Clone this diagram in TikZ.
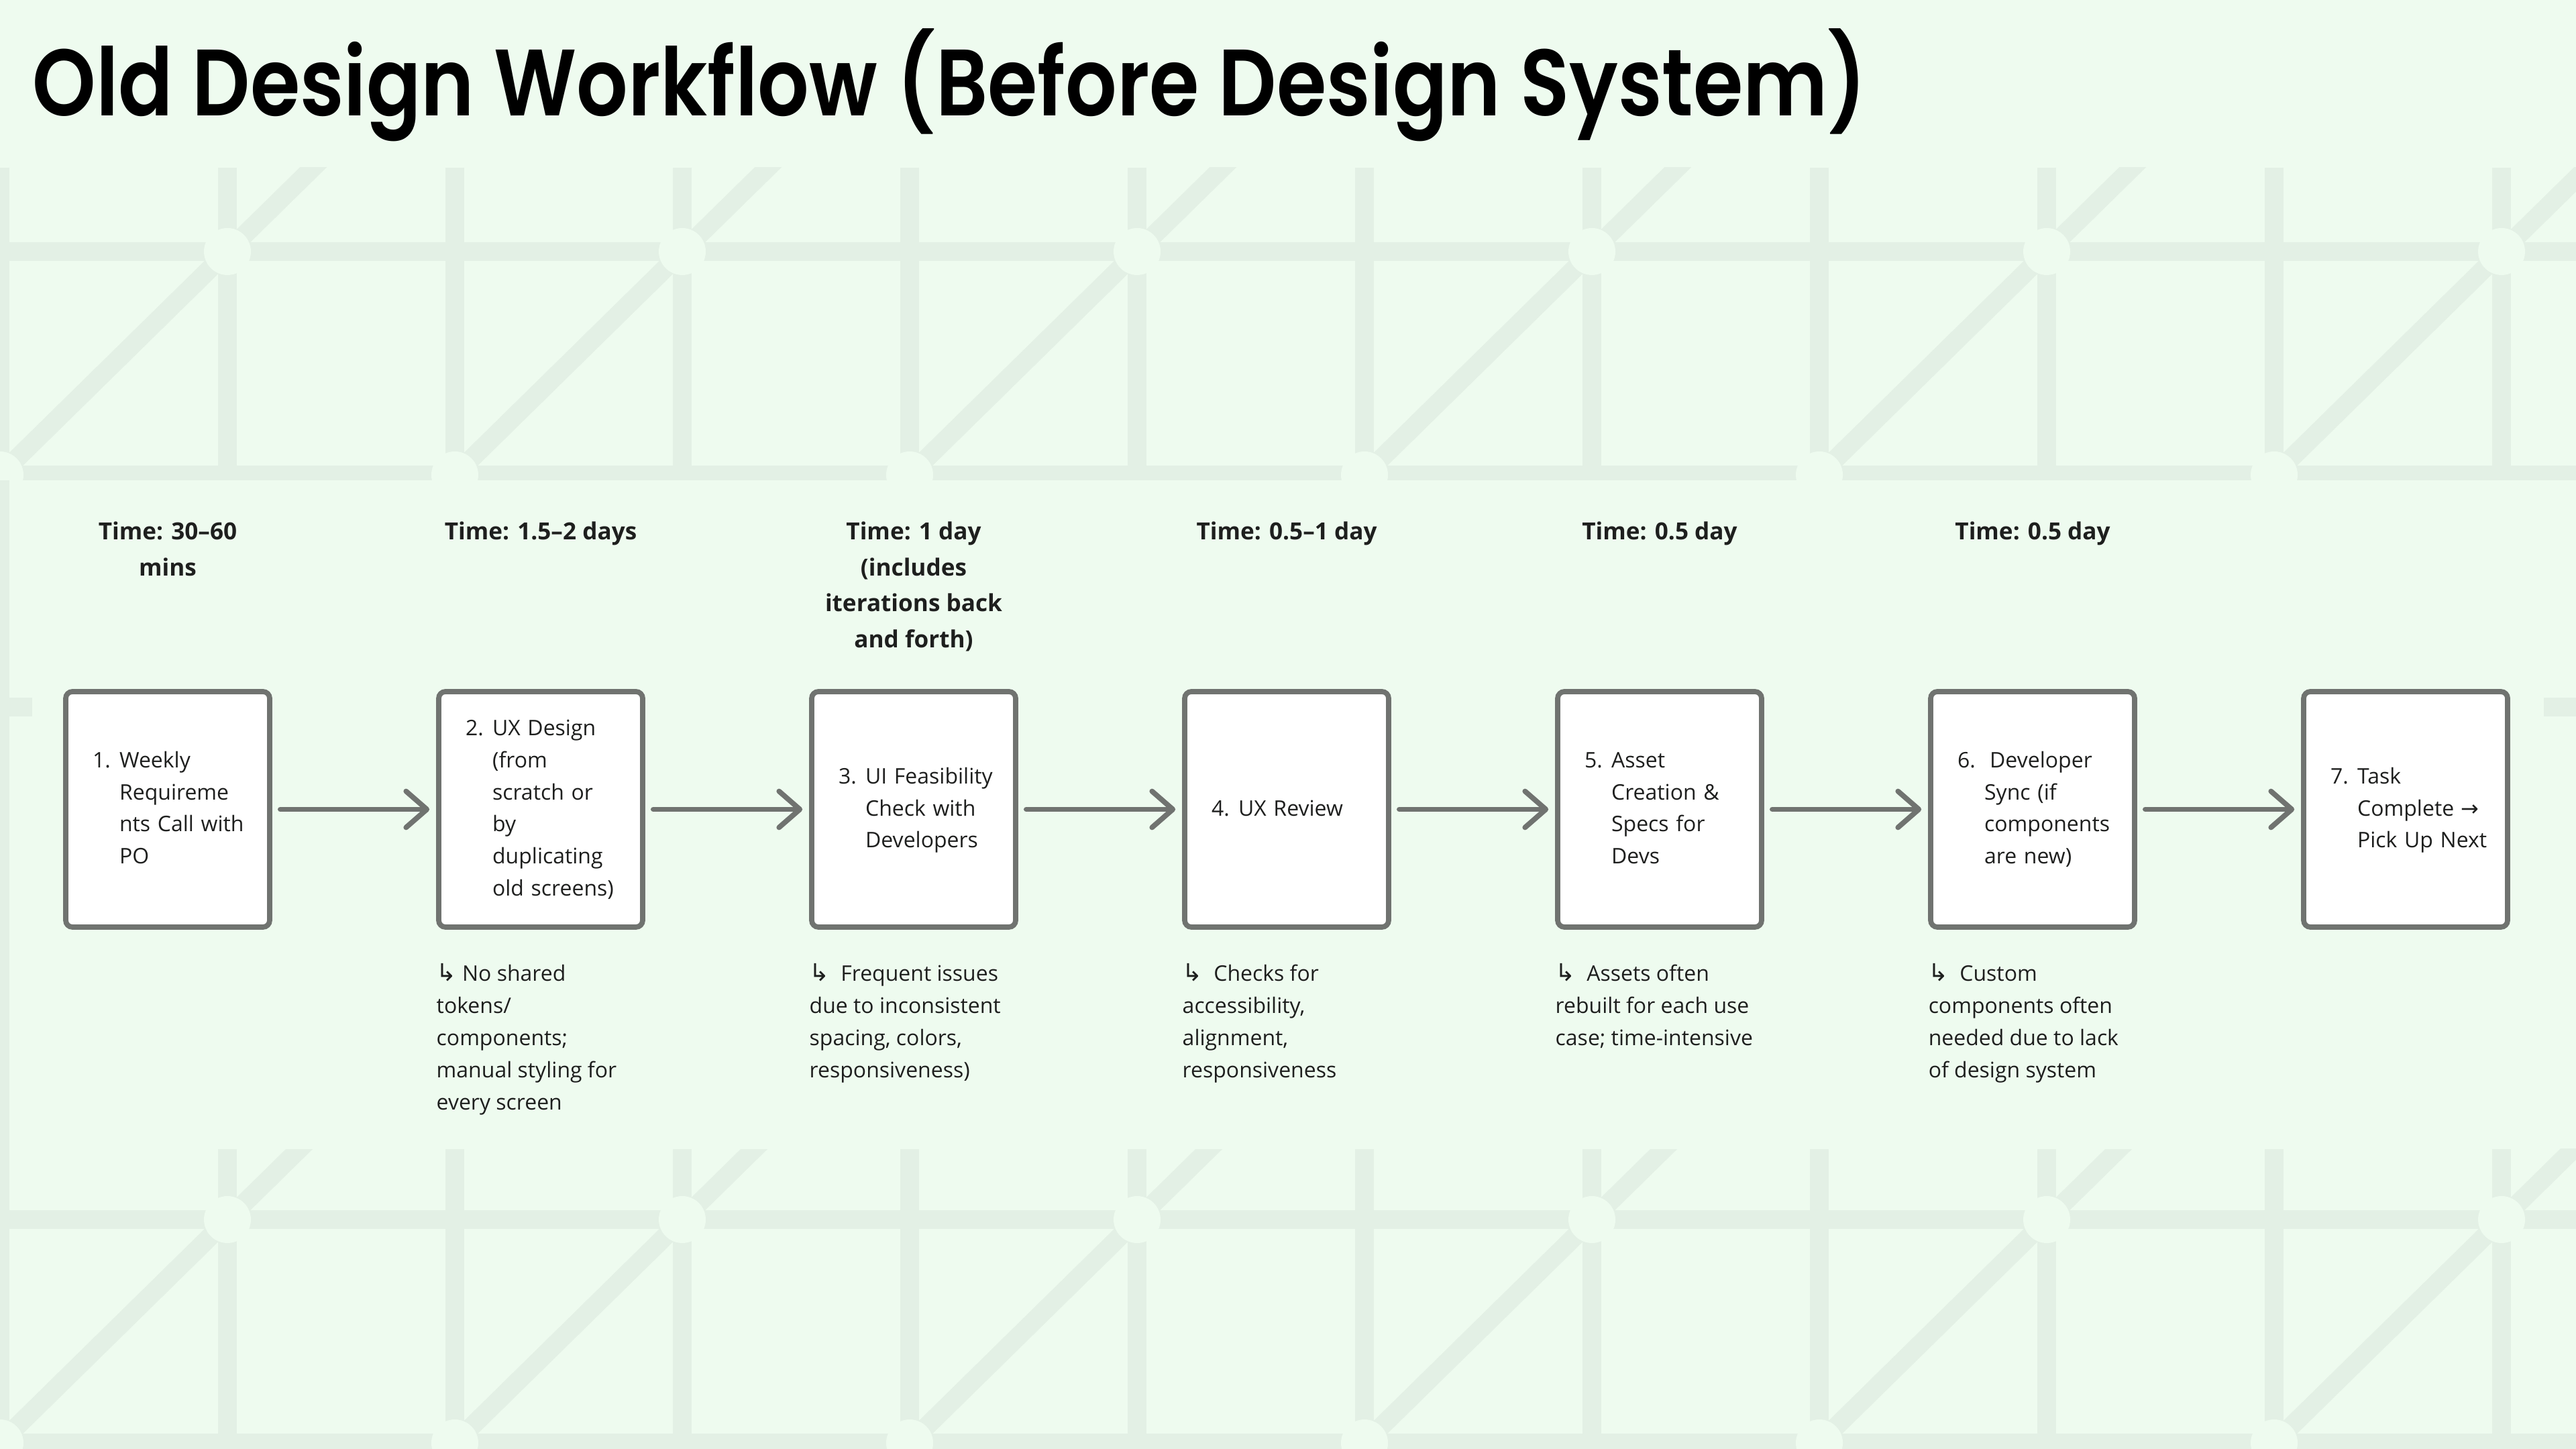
\documentclass[tikz,border=0pt]{standalone}
\usepackage{fontspec}
\setmainfont{Open Sans}
\newfontfamily\titlefont{Poppins SemiBold}[FakeStretch=0.856]
\newfontfamily\symfont{DejaVu Sans}
\usetikzlibrary{arrows.meta}

\definecolor{bgmint}{HTML}{EEFBEF}
\definecolor{patmint}{HTML}{E3F0E5}
\definecolor{boxgrey}{HTML}{707370}
\definecolor{inkdark}{HTML}{1E1F1E}

\newcommand{\stepitem}[2]{\begin{tabular}{@{}l@{}l@{}}\makebox[11.4pt][l]{#1}&#2\end{tabular}}
\newcommand{\timetext}[1]{\begin{tabular}[t]{@{}c@{}}#1\end{tabular}}
\newcommand{\notetext}[1]{\begin{tabular}[t]{@{}l@{}}#1\end{tabular}}
\newcommand{\hook}{{\symfont\fontsize{10.2}{13.6}\selectfont ↳}}
\newcommand{\rarr}{{\symfont →}}

% one band of the background lattice: #1 upper line, #2 top edge, #3 bottom edge
\newcommand{\latticeband}[3]{%
  \begin{scope}
    \clip (0,#3) rectangle (38.4,#2);
    \foreach \k in {0,...,11} \draw[patline] (3.39*\k,#2) -- (3.39*\k,#1-3.6);
    \draw[patline] (-1,#1) -- (40,#1) (-1,#1-3.33) -- (40,#1-3.33);
    \foreach \j in {-1,...,6} \draw[patline] (6.78*\j-0.6,#1-3.92) -- (6.78*\j+4.99,#1+1.57);
    \foreach \j in {0,...,6} \fill[bgmint] (6.78*\j+3.39,#1) circle (0.35) (6.78*\j,#1-3.33) circle (0.35);
  \end{scope}}

\begin{document}
\begin{tikzpicture}[
    patline/.style={draw=patmint, line width=0.28cm},
    stepbox/.style={draw=boxgrey, line width=2.2pt, fill=white, rounded corners=0.1cm,
      minimum height=3.51cm, text width=2.24cm, inner xsep=0.4cm, align=left,
      text=inkdark, font=\fontsize{9.1}{13.6}\selectfont},
    timelabel/.style={anchor=base, inner sep=0, text=inkdark, font=\bfseries\fontsize{10}{15.2}\selectfont},
    notelabel/.style={anchor=base west, inner sep=0, text=inkdark, font=\fontsize{9.1}{13.6}\selectfont},
    flowarrow/.style={draw=boxgrey, line width=2.2pt, line cap=round, shorten <=0.12cm, shorten >=0.1cm,
      -{Straight Barb[length=0.31cm, width=0.54cm, line cap=round, line join=round]}}
  ]
  \useasboundingbox (0,0) rectangle (38.4,21.6);
  \fill[bgmint] (0,0) rectangle (38.4,21.6);

  % background lattice
  \latticeband{17.85}{19.10}{14.44}
  \latticeband{3.42}{4.47}{0}
  \draw[patline] (0,14.44) -- (0,4.47);
  \draw[patline] (0,11.06) -- (0.48,11.06);
  \draw[patline] (37.92,11.06) -- (38.4,11.06);
  \fill[bgmint] (0.48,4.47) rectangle (37.92,14.44);

  \node[anchor=base west, inner sep=0, font=\titlefont\fontsize{40}{42}\selectfont] (title) at (0.48,19.87) {Old Design Workflow (Before Design System)};

  % steps
  \node[stepbox] (s1) at (2.50,9.535) {\stepitem{1.}{Weekly\\&Requireme\\&nts Call with\\&PO}};
  \node[stepbox] (s2) at (8.06,9.535) {\stepitem{2.}{UX Design\\&(from\\&scratch or\\&by\\&duplicating\\&old screens)}};
  \node[stepbox] (s3) at (13.62,9.535) {\stepitem{3.}{UI Feasibility\\&Check with\\&Developers}};
  \node[stepbox] (s4) at (19.18,9.535) {\stepitem{4.}{UX Review}};
  \node[stepbox] (s5) at (24.74,9.535) {\stepitem{5.}{Asset\\&Creation \&\\&Specs for\\&Devs}};
  \node[stepbox] (s6) at (30.30,9.535) {\stepitem{6.}{\hspace{2.3pt}Developer\\&Sync (if\\&components\\&are new)}};
  \node[stepbox] (s7) at (35.86,9.535) {\stepitem{7.}{Task\\&Complete \rarr\\&Pick Up Next}};

  \foreach \a/\b in {s1/s2, s2/s3, s3/s4, s4/s5, s5/s6, s6/s7}
    \draw[flowarrow] (\a) -- (\b);

  % time per step
  \node[timelabel] (t1) at (2.50,13.55) {\timetext{Time: 30–60\\mins}};
  \node[timelabel] (t2) at (8.06,13.55) {\timetext{Time: 1.5–2 days}};
  \node[timelabel] (t3) at (13.62,13.55) {\timetext{Time: 1 day\\(includes\\iterations back\\and forth)}};
  \node[timelabel] (t4) at (19.18,13.55) {\timetext{Time: 0.5–1 day}};
  \node[timelabel] (t5) at (24.74,13.55) {\timetext{Time: 0.5 day}};
  \node[timelabel] (t6) at (30.30,13.55) {\timetext{Time: 0.5 day}};

  % pain points
  \node[notelabel] (n2) at (6.50,6.97) {\notetext{\hook\ No shared\\tokens/\\components;\\manual styling for\\every screen}};
  \node[notelabel] (n3) at (12.06,6.97) {\notetext{\hook\ \ Frequent issues\\due to inconsistent\\spacing, colors,\\responsiveness)}};
  \node[notelabel] (n4) at (17.62,6.97) {\notetext{\hook\ \ Checks for\\accessibility,\\alignment,\\responsiveness}};
  \node[notelabel] (n5) at (23.18,6.97) {\notetext{\hook\ \ Assets often\\rebuilt for each use\\case; time-intensive}};
  \node[notelabel] (n6) at (28.74,6.97) {\notetext{\hook\ \ Custom\\components often\\needed due to lack\\of design system}};
\end{tikzpicture}
\end{document}
